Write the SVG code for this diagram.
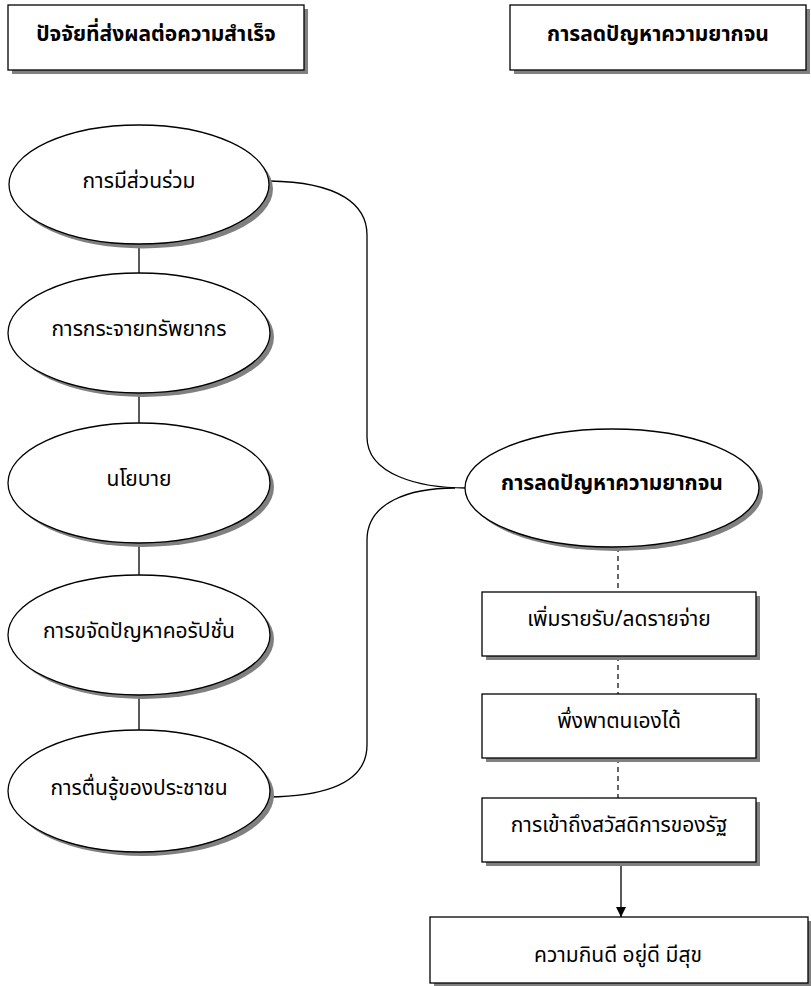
<svg xmlns="http://www.w3.org/2000/svg" width="811" height="986" viewBox="0 0 811 986">
<defs>
<style>
.sh{fill:#808080;stroke:none}
.nd{fill:#fff;stroke:#000;stroke-width:1.3}
.t{font-family:"Noto Sans Thai","Noto Sans","DejaVu Sans",sans-serif;font-size:21px;fill:#000;text-anchor:middle;dominant-baseline:central}
.b{font-weight:bold}
.c{fill:none;stroke:#000;stroke-width:1.3}
.d{fill:none;stroke:#000;stroke-width:1.2;stroke-dasharray:5,4}
</style>
<marker id="ah" viewBox="0 0 10 10" refX="10" refY="5" markerWidth="10" markerHeight="10" markerUnits="userSpaceOnUse" orient="auto">
<path d="M0,0 L10,5 L0,10 Z" fill="#000"/>
</marker>
</defs>
<rect width="811" height="986" fill="#fff"/>
<g id="connectors">
<line class="c" x1="139" y1="244" x2="139" y2="273"/>
<line class="c" x1="139" y1="393" x2="139" y2="423"/>
<line class="c" x1="139" y1="543" x2="139" y2="575"/>
<line class="c" x1="139" y1="695" x2="139" y2="731"/>
<path class="c" d="M269,181 C340,182 367,205 367,235 L367,437 C367,475 420,488 466,488"/>
<path class="c" d="M269,797 C340,796 367,775 367,745 L367,540 C367,502 410,488 455,488"/>
<line class="d" x1="618" y1="547" x2="618" y2="592"/>
<line class="d" x1="618" y1="656" x2="618" y2="694"/>
<line class="d" x1="618" y1="758" x2="618" y2="798"/>
<line class="c" x1="621" y1="862" x2="621" y2="917" marker-end="url(#ah)"/>
</g>
<g id="title-left">
<rect class="sh" x="12" y="9" width="296" height="65"/>
<rect class="nd" x="8" y="5" width="296" height="65"/>
<text class="t b" x="156" y="34">ปัจจัยที่ส่งผลต่อความสำเร็จ</text>
</g>
<g id="title-right">
<rect class="sh" x="514" y="9" width="296" height="65"/>
<rect class="nd" x="510" y="5" width="296" height="65"/>
<text class="t b" x="658" y="34">การลดปัญหาความยากจน</text>
</g>
<g id="e1">
<ellipse class="sh" cx="143" cy="189" rx="130" ry="59.5"/>
<ellipse class="nd" cx="139" cy="184.5" rx="130" ry="59.5"/>
<text class="t" x="139" y="181">การมีส่วนร่วม</text>
</g>
<g id="e2">
<ellipse class="sh" cx="143" cy="337" rx="131" ry="60"/>
<ellipse class="nd" cx="139" cy="333" rx="131" ry="60"/>
<text class="t" x="139" y="329">การกระจายทรัพยากร</text>
</g>
<g id="e3">
<ellipse class="sh" cx="143" cy="487" rx="131" ry="60"/>
<ellipse class="nd" cx="139" cy="483" rx="131" ry="60"/>
<text class="t" x="139" y="479">นโยบาย</text>
</g>
<g id="e4">
<ellipse class="sh" cx="143" cy="639" rx="131" ry="60"/>
<ellipse class="nd" cx="139" cy="635" rx="131" ry="60"/>
<text class="t" x="139" y="631">การขจัดปัญหาคอรัปชั่น</text>
</g>
<g id="e5">
<ellipse class="sh" cx="143" cy="795" rx="131" ry="61"/>
<ellipse class="nd" cx="139" cy="791" rx="131" ry="61"/>
<text class="t" x="139" y="788">การตื่นรู้ของประชาชน</text>
</g>
<g id="center">
<ellipse class="sh" cx="616" cy="492" rx="147" ry="59"/>
<ellipse class="nd" cx="612" cy="488" rx="147" ry="59"/>
<text class="t b" x="612" y="483">การลดปัญหาความยากจน</text>
</g>
<g id="b1">
<rect class="sh" x="486" y="596" width="274" height="64"/>
<rect class="nd" x="482" y="592" width="274" height="64"/>
<text class="t" x="619" y="619">เพิ่มรายรับ/ลดรายจ่าย</text>
</g>
<g id="b2">
<rect class="sh" x="486" y="698" width="274" height="64"/>
<rect class="nd" x="482" y="694" width="274" height="64"/>
<text class="t" x="619" y="721">พึ่งพาตนเองได้</text>
</g>
<g id="b3">
<rect class="sh" x="486" y="802" width="274" height="64"/>
<rect class="nd" x="482" y="798" width="274" height="64"/>
<text class="t" x="619" y="825">การเข้าถึงสวัสดิการของรัฐ</text>
</g>
<g id="b4">
<rect class="sh" x="434" y="921" width="380" height="66"/>
<rect class="nd" x="430" y="917" width="378" height="66"/>
<text class="t" x="618" y="955">ความกินดี อยู่ดี มีสุข</text>
</g>
</svg>
